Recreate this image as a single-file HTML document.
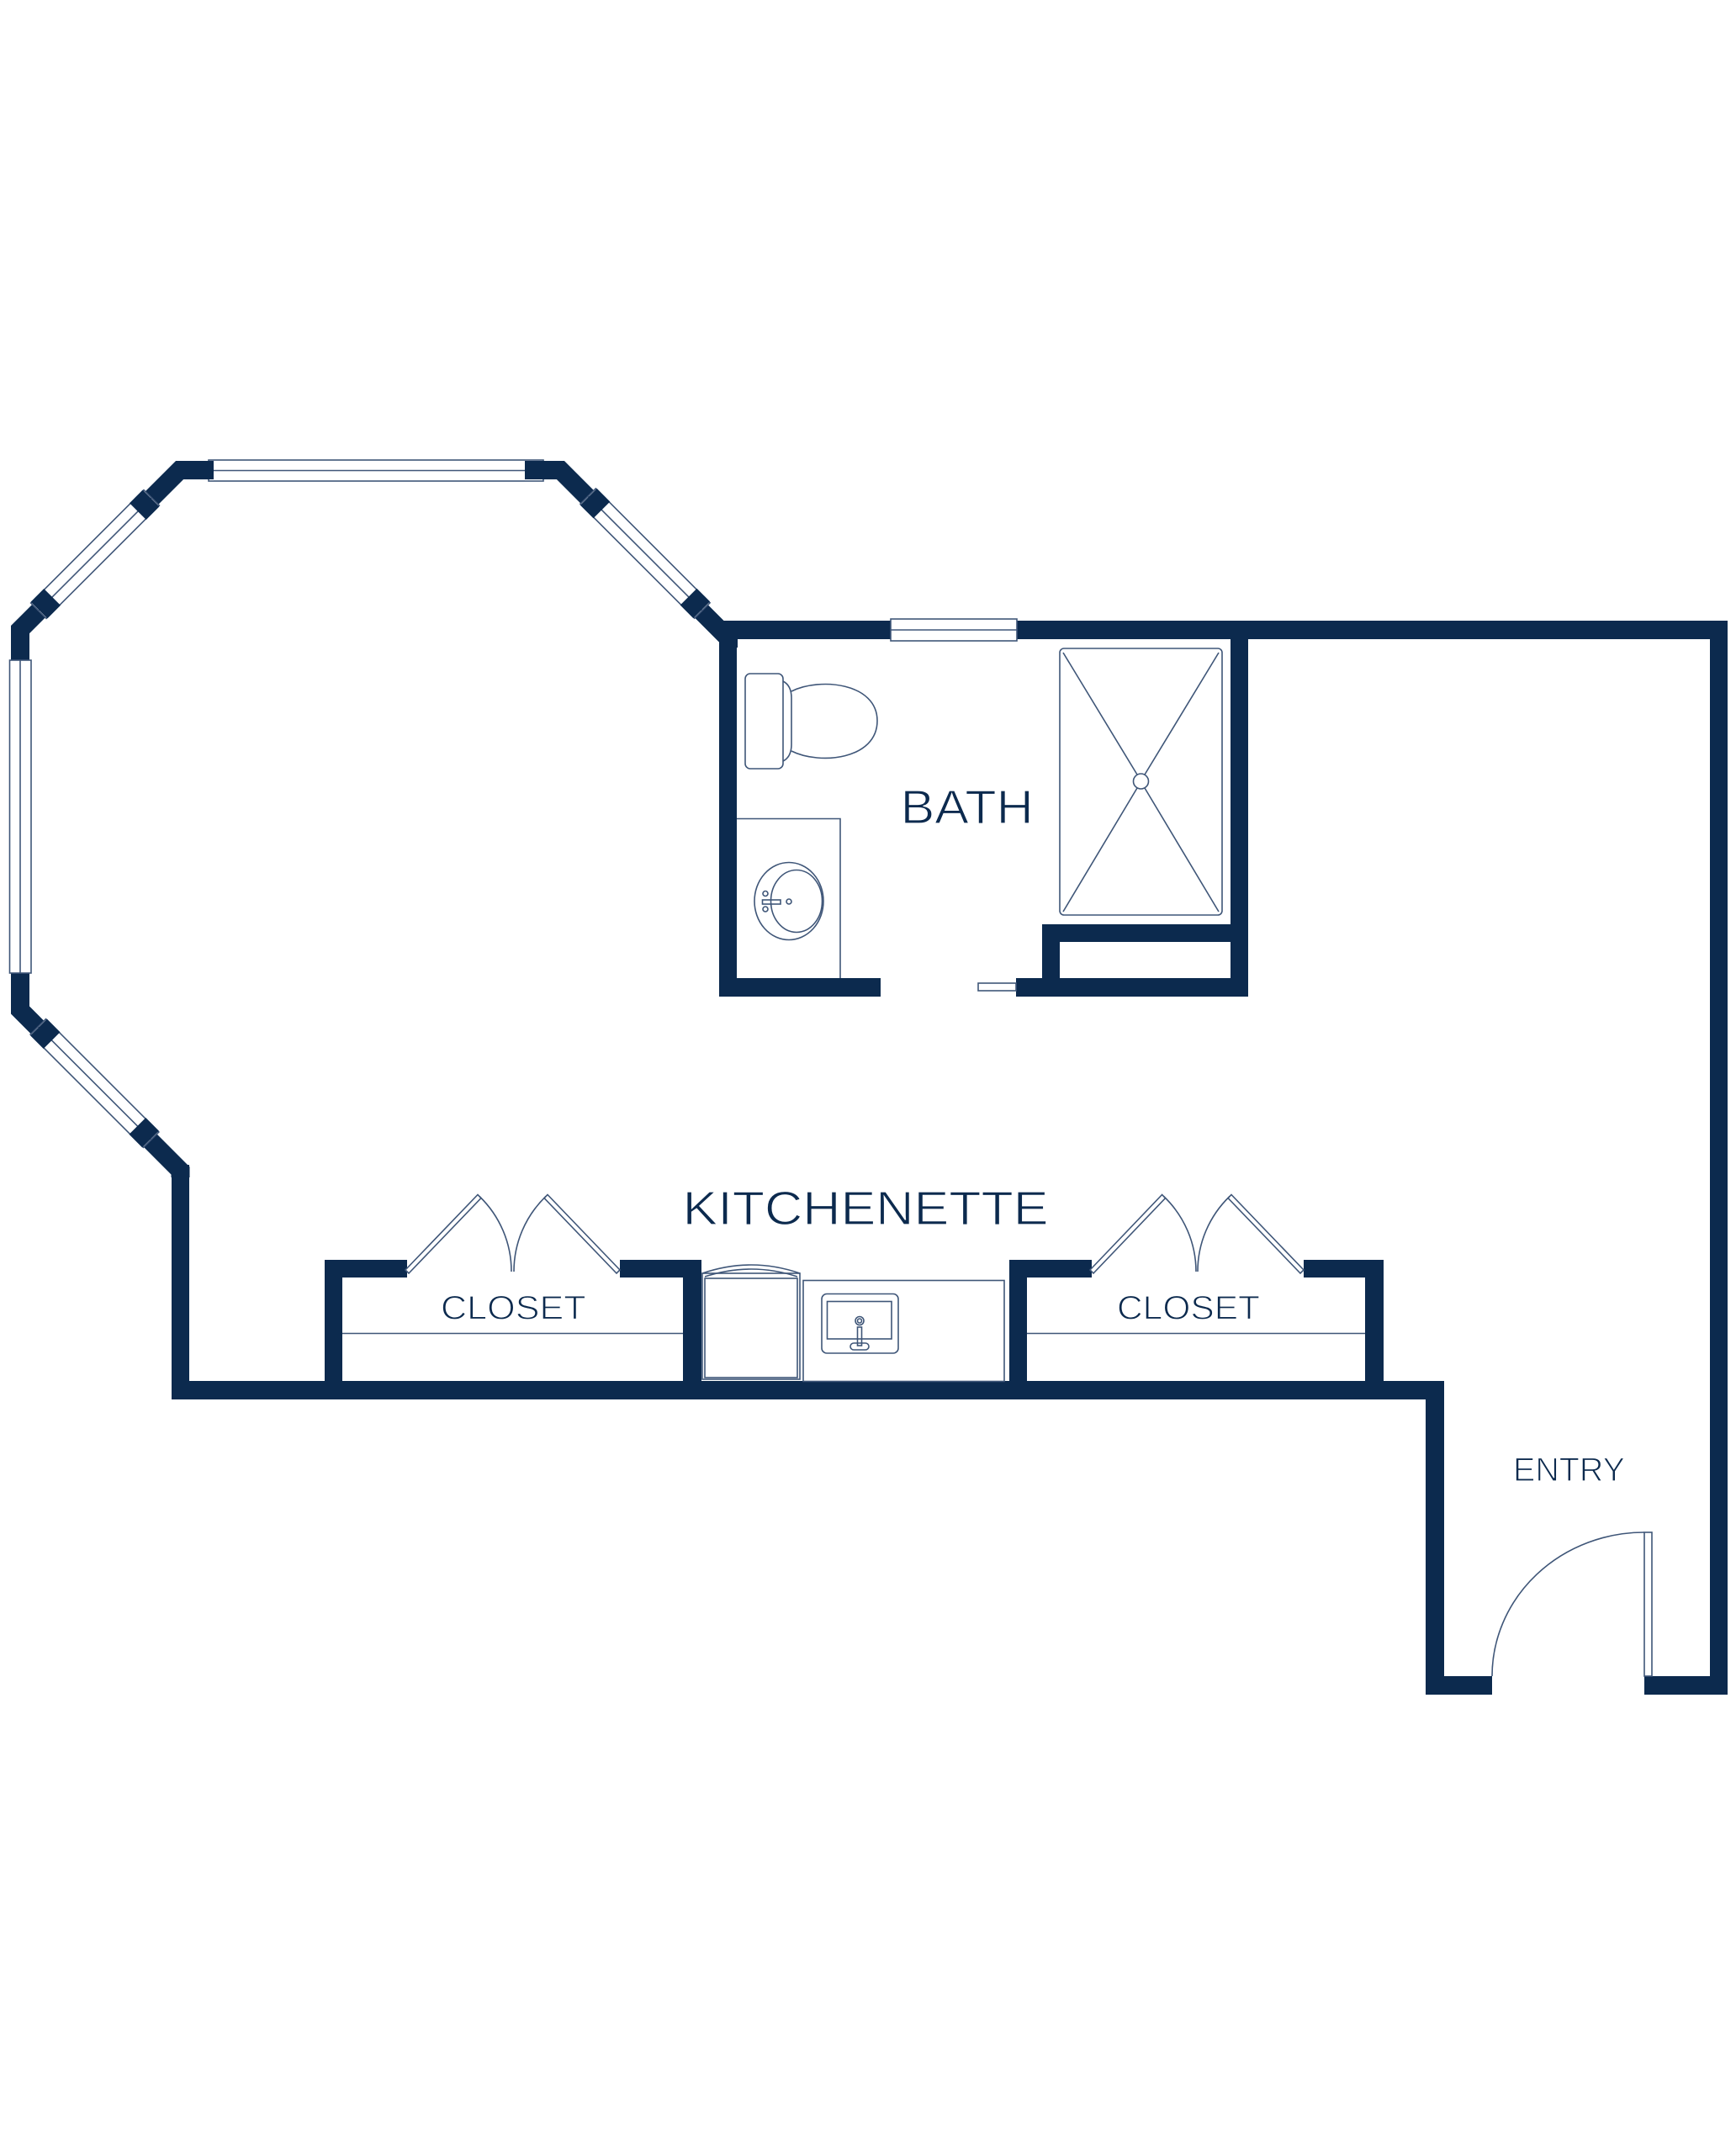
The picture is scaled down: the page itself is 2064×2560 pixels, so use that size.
<!DOCTYPE html>
<html><head><meta charset="utf-8"><style>
html,body{margin:0;padding:0;background:#fff;}
svg{display:block;}
text{font-family:"Liberation Sans",sans-serif;fill:#0c2a4e;}
</style></head><body>
<svg width="2064" height="2560" viewBox="0 0 2064 2560" xmlns="http://www.w3.org/2000/svg">
<rect width="2064" height="2560" fill="#fff"/>
<g fill="#0c2a4e">
<!-- octagon walls -->
<polyline points="214.5,1400 214.5,1392 24,1201 24,748.6 213.6,559 666.4,559 866,759 866,770" fill="none" stroke="#0c2a4e" stroke-width="22" stroke-linejoin="miter" stroke-miterlimit="10"/>
<rect x="204" y="1385" width="21" height="279"/>
<rect x="204" y="1642" width="1513" height="22"/>
<rect x="1695" y="1642" width="22" height="373"/>
<rect x="1695" y="1993" width="79" height="22"/>
<rect x="1955" y="1993" width="99" height="22"/>
<rect x="2033" y="738" width="21" height="1277"/>
<rect x="855" y="738" width="1199" height="22"/>
<rect x="855" y="738" width="21" height="447"/>
<rect x="855" y="1163" width="192" height="22"/>
<rect x="1208" y="1163" width="276" height="22"/>
<rect x="1463" y="738" width="21" height="447"/>
<rect x="1239" y="1099" width="224" height="21"/>
<rect x="1239" y="1099" width="21" height="86"/>
<!-- closet 1 -->
<rect x="386" y="1498" width="21" height="166"/>
<rect x="386" y="1498" width="98" height="21"/>
<rect x="737" y="1498" width="97" height="21"/>
<rect x="812" y="1498" width="22" height="166"/>
<!-- closet 2 -->
<rect x="1200" y="1498" width="21" height="166"/>
<rect x="1200" y="1498" width="98" height="21"/>
<rect x="1550" y="1498" width="95" height="21"/>
<rect x="1623" y="1498" width="22" height="166"/>
</g>

<g stroke="#3f5678" stroke-width="1.6" fill="none">
<!-- top window -->
<rect x="248" y="547" width="398" height="25" fill="#fff"/>
<line x1="248" y1="559.5" x2="646" y2="559.5"/>
<!-- left window -->
<rect x="11.5" y="785" width="25.5" height="372" fill="#fff"/>
<line x1="24" y1="785" x2="24" y2="1157"/>
<!-- bath window -->
<rect x="1059" y="736" width="150" height="26" fill="#fff"/>
<line x1="1059" y1="749" x2="1209" y2="749"/>
<!-- diagonal windows -->
<g transform="translate(113,659) rotate(-45)">
<rect x="-95" y="-13" width="190" height="26" fill="#fff"/><line x1="-95" y1="0" x2="95" y2="0"/>
<rect x="-94" y="-14" width="22" height="28" fill="#0c2a4e" stroke="none"/><rect x="72" y="-14" width="22" height="28" fill="#0c2a4e" stroke="none"/>
</g>
<g transform="translate(112.5,1288) rotate(45)">
<rect x="-95" y="-13" width="190" height="26" fill="#fff"/><line x1="-95" y1="0" x2="95" y2="0"/>
<rect x="-94" y="-14" width="22" height="28" fill="#0c2a4e" stroke="none"/><rect x="72" y="-14" width="22" height="28" fill="#0c2a4e" stroke="none"/>
</g>
<g transform="translate(767,658) rotate(45)">
<rect x="-96" y="-13" width="192" height="26" fill="#fff"/><line x1="-96" y1="0" x2="96" y2="0"/>
<rect x="-95" y="-14" width="22" height="28" fill="#0c2a4e" stroke="none"/><rect x="73" y="-14" width="22" height="28" fill="#0c2a4e" stroke="none"/>
</g>
</g>
<g fill="#0c2a4e">
<rect x="210" y="548" width="44" height="22"/>
<rect x="624" y="548" width="46" height="22"/>
</g>

<g stroke="#3f5678" stroke-width="1.6" fill="none">
<!-- bath door stub -->
<rect x="1163" y="1169" width="45" height="9" fill="#fff"/>
<!-- toilet -->
<rect x="886" y="801" width="45" height="113" rx="6"/>
<path d="M931,810 Q941,815 941,830 L941,885 Q941,900 931,905"/>
<path d="M941,822 C975,805 1043,812 1043,857 C1043,903 975,910 941,893"/>
<!-- vanity -->
<path d="M876,973.5 L999,973.5 L999,1163"/>
<ellipse cx="938" cy="1071.5" rx="41" ry="46"/>
<ellipse cx="947" cy="1071.5" rx="30.5" ry="37"/>
<rect x="906.5" y="1070" width="21.5" height="5"/>
<circle cx="910" cy="1062.5" r="3"/><circle cx="910" cy="1081" r="3"/><circle cx="938" cy="1072" r="3"/>
<!-- shower -->
<rect x="1260" y="771" width="193" height="317" rx="5"/>
<circle cx="1356.5" cy="929" r="9"/>
<line x1="1264" y1="776" x2="1352" y2="921"/><line x1="1449" y1="776" x2="1361" y2="921"/>
<line x1="1264" y1="1084" x2="1352" y2="937"/><line x1="1449" y1="1084" x2="1361" y2="937"/>
<!-- closet shelves -->
<line x1="407" y1="1585.5" x2="812" y2="1585.5"/>
<line x1="1221" y1="1585.5" x2="1623" y2="1585.5"/>
<!-- closet doors -->
<polygon points="482,1510 568,1420.5 572,1424.5 486,1514" fill="#fff"/>
<path d="M570,1422.5 A124,124 0 0 1 608,1512"/>
<polygon points="737,1510 651,1420.5 647,1424.5 733,1514" fill="#fff"/>
<path d="M649,1422.5 A124,124 0 0 0 611,1512"/>
<polygon points="1296,1510 1381.6,1420.5 1385.6,1424.5 1300,1514" fill="#fff"/>
<path d="M1383.6,1422.5 A124,124 0 0 1 1422,1512"/>
<polygon points="1550,1510 1464,1420.5 1460,1424.5 1546,1514" fill="#fff"/>
<path d="M1462,1422.5 A124,124 0 0 0 1424,1512"/>
<!-- fridge -->
<rect x="835" y="1514" width="116" height="126"/>
<rect x="838" y="1520" width="110" height="118"/>
<path d="M835,1514 Q893,1494 951,1514"/>
<path d="M838,1518 Q893,1500 948,1518"/>
<!-- counter & sink -->
<rect x="955" y="1522.5" width="239" height="120"/>
<rect x="977" y="1538.5" width="91" height="70.5" rx="6"/>
<rect x="983.5" y="1547.5" width="76.5" height="44.5"/>
<circle cx="1022" cy="1570.5" r="5"/><circle cx="1022" cy="1570.5" r="2.5"/>
<rect x="1019.5" y="1578" width="5" height="22"/>
<rect x="1011" y="1597" width="22" height="8" rx="4"/>
<!-- entry door -->
<rect x="1955" y="1822" width="9" height="171" fill="#fff"/>
<path d="M1955,1822 A181,171 0 0 0 1774,1993"/>
</g>

<g stroke="#fff" stroke-width="1.2">
<text x="1070.6" y="978.8" font-size="57" textLength="158" lengthAdjust="spacingAndGlyphs">BATH</text>
<text x="811.6" y="1456" font-size="57" textLength="435" lengthAdjust="spacingAndGlyphs">KITCHENETTE</text>
<text x="524" y="1568.5" font-size="40" textLength="172.6" lengthAdjust="spacingAndGlyphs">CLOSET</text>
<text x="1328" y="1568.5" font-size="40" textLength="170" lengthAdjust="spacingAndGlyphs">CLOSET</text>
<text x="1799" y="1761" font-size="40" textLength="133" lengthAdjust="spacingAndGlyphs">ENTRY</text>
</g>
</svg>
</body></html>
